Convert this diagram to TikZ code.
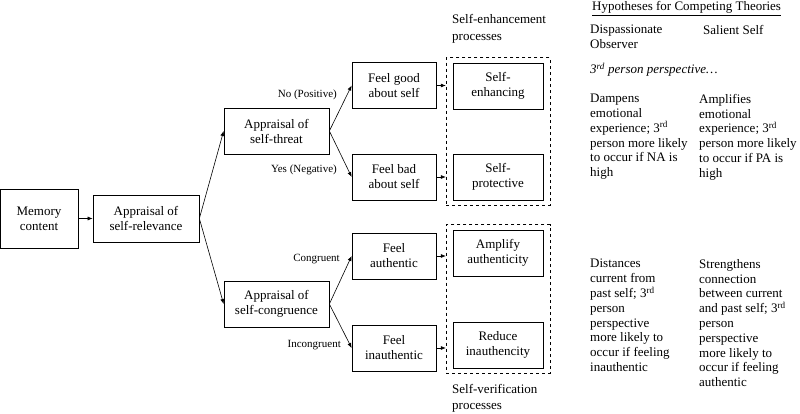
\documentclass[tikz,border=0pt]{standalone}
\usepackage{fontspec}
\setmainfont{Liberation Serif}
\usetikzlibrary{arrows.meta, positioning, fit}

\begin{document}
\begin{tikzpicture}[x=1pt, y=-1pt,
  box/.style={draw, line width=0.7pt, align=center, inner sep=1pt,
    minimum height=46pt, font=\fontsize{13}{15}\selectfont},
  grp/.style={draw, dashed, line width=0.7pt, inner xsep=6.5pt, inner ysep=5pt},
  lbl/.style={anchor=east, inner sep=0pt, font=\fontsize{11}{13}\selectfont},
  txt/.style={anchor=north west, align=left, inner sep=0pt,
    font=\fontsize{13}{14.8}\selectfont},
  arr/.style={-{Latex[length=5pt, width=4pt]}, line width=0.6pt}]
  \useasboundingbox (0,0) rectangle (800,414);

  % ===== left part =====
  \node[box, minimum width=78pt, minimum height=59pt] (mem) at (39,218.5) {Memory\\content};
  \node[box, minimum width=106pt, minimum height=47pt] (relev) at (146,218.5) {Appraisal of\\self-relevance};
  \node[box, minimum width=105pt] (threat) at (276.5,131) {Appraisal of\\self-threat};
  \node[box, minimum width=105pt] (congr) at (276.5,304) {Appraisal of\\self-congruence};

  % ===== feelings =====
  \node[box, minimum width=84pt] (good) at (394,85.5) {Feel good\\about self};
  \node[box, minimum width=84pt] (bad) at (394,177) {Feel bad\\about self};
  \node[box, minimum width=84pt] (auth) at (394,256) {Feel\\authentic};
  \node[box, minimum width=84pt] (inauth) at (394,348) {Feel\\inauthentic};

  % ===== processes =====
  \node[box, minimum width=90pt] (enh) at (498,86) {Self-\\enhancing};
  \node[box, minimum width=90pt] (prot) at (498,177) {Self-\\protective};
  \node[box, minimum width=90pt] (ampl) at (498,253) {Amplify\\authenticity};
  \node[box, minimum width=90pt] (reduce) at (498,345) {Reduce\\inauthencity};
  \node[grp, fit=(enh)(prot)] (enhgrp) {};
  \node[grp, fit=(ampl)(reduce)] (verifgrp) {};
  \node[txt, font=\fontsize{13}{17.5}\selectfont] (enhlbl) at (452,14) {Self-enhancement\\processes};
  \node[txt, font=\fontsize{13}{16.5}\selectfont] (veriflbl) at (452,384) {Self-verification\\processes};

  % ===== connectors =====
  \draw[arr] (mem) -- (relev);
  \draw[arr] (relev.east) -- (threat.west);
  \draw[arr] (relev.east) -- (congr.west);
  \draw[arr] (threat.east) -- (good.west);
  \draw[arr] (threat.east) -- (bad.west);
  \draw[arr] (congr.east) -- (auth.west);
  \draw[arr] (congr.east) -- (inauth.west);
  \draw[arr] (good.east) -- (good.east -| enhgrp.west);
  \draw[arr] (bad.east) -- (bad.east -| enhgrp.west);
  \draw[arr] (auth.east) -- (auth.east -| verifgrp.west);
  \draw[arr] (inauth.east) -- (inauth.east -| verifgrp.west);

  % branch labels
  \node[lbl] (nopos) at (337,95) {No (Positive)};
  \node[lbl] (yesneg) at (337,170) {Yes (Negative)};
  \node[lbl] (cong) at (340,259) {Congruent};
  \node[lbl] (incong) at (341,345) {Incongruent};

  % ===== hypotheses =====
  \node[txt, anchor=base west] (title) at (592,10.5) {\underline{Hypotheses for Competing Theories}};
  \node[txt] (disp) at (590,25) {Dispassionate\\Observer};
  \node[txt] (salient) at (703,25) {Salient Self};
  \node[txt, anchor=base west] (persp) at (590,74) {\itshape 3\textsuperscript{rd} person perspective\ldots};
  \node[txt] (dampens) at (590,94) {Dampens\\emotional\\experience; 3\textsuperscript{rd}\\person more likely\\to occur if NA is\\high};
  \node[txt] (amplifies) at (699,94) {Amplifies\\emotional\\experience; 3\textsuperscript{rd}\\person more likely\\to occur if PA is\\high};
  \node[txt] (distances) at (590,259) {Distances\\current from\\past self; 3\textsuperscript{rd}\\person\\perspective\\more likely to\\occur if feeling\\inauthentic};
  \node[txt] (strengthens) at (699,259) {Strengthens\\connection\\between current\\and past self; 3\textsuperscript{rd}\\person\\perspective\\more likely to\\occur if feeling\\authentic};
\end{tikzpicture}
\end{document}
